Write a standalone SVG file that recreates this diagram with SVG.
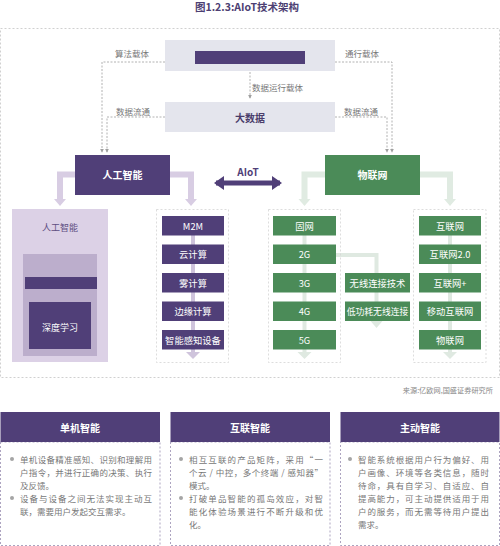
<svg xmlns="http://www.w3.org/2000/svg" width="500" height="546" viewBox="0 0 500 546">
<style>
text{font-family:"Noto Sans CJK SC","Noto Sans",sans-serif;dominant-baseline:central}
.c{text-anchor:middle}
.w{fill:#fff}
.b{font-weight:bold}
.lbl{font-size:8.5px;fill:#777}
.it{font-size:9.3px;fill:#fff;text-anchor:middle}
.pu{fill:#503f78}
.gr{fill:#4b8b58}
.col{fill:none;stroke:#d4d4d4;stroke-width:0.8;stroke-dasharray:2,2}
.dc{fill:none;stroke:#a0a0a0;stroke-width:0.8;stroke-dasharray:2,1.5}
.body{font-size:8.5px;fill:#777}
.panel{fill:#fff;stroke:#a49ab9;stroke-width:0.9;stroke-dasharray:2,2}
</style>
<defs>
<marker id="ah" viewBox="0 0 6 6" refX="5" refY="3" markerWidth="5" markerHeight="5" orient="auto">
<path d="M0,0 L6,3 L0,6 z" fill="#a0a0a0"/>
</marker>
</defs>

<text x="247" y="6" class="c b" style="font-size:10.5px;fill:#4d3f73">图1.2.3:AIoT技术架构</text>

<rect x="0.5" y="28.5" width="499" height="349" fill="none" stroke="#c4c4c4" stroke-width="0.8" stroke-dasharray="2,2"/>

<g id="connectors">
<path class="dc" d="M165,62 H102 V152" marker-end="url(#ah)"/>
<path class="dc" d="M335,62 H392 V152" marker-end="url(#ah)"/>
<path class="dc" d="M250,72 V98" marker-end="url(#ah)"/>
<path class="dc" d="M165,117 H107 V152" marker-end="url(#ah)"/>
<path class="dc" d="M335,117 H387 V152" marker-end="url(#ah)"/>
<path d="M75,174.5 H60 V200" fill="none" stroke="#d8cde3" stroke-width="6"/>
<polygon points="54,199 66,199 60,206" fill="#d8cde3"/>
<path d="M170,174.5 H191 V200" fill="none" stroke="#d8cde3" stroke-width="6"/>
<polygon points="185,199 197,199 191,206" fill="#d8cde3"/>
<path d="M325,174.5 H304.5 V200" fill="none" stroke="#e0ebe2" stroke-width="6"/>
<polygon points="298.5,199 310.5,199 304.5,206" fill="#e0ebe2"/>
<path d="M420,174.5 H450 V200" fill="none" stroke="#e0ebe2" stroke-width="6"/>
<polygon points="444,199 456,199 450,206" fill="#e0ebe2"/>
<path d="M216,183 H280" stroke="#503f78" stroke-width="5"/>
<polygon points="214,183 224,176 224,190" fill="#503f78"/>
<polygon points="282,183 272,176 272,190" fill="#503f78"/>
<path d="M193,230 V353" stroke="#cfc4dc" stroke-width="4"/>
<polygon points="186,352 200,352 193,359" fill="#cfc4dc"/>
<path d="M304.5,230 V353" stroke="#dfe9e1" stroke-width="4"/>
<polygon points="297.5,352 311.5,352 304.5,359" fill="#dfe9e1"/>
<path d="M450,230 V353" stroke="#dfe9e1" stroke-width="4"/>
<polygon points="443,352 457,352 450,359" fill="#dfe9e1"/>
<path d="M336,255 H376.5 V322" fill="none" stroke="#dfe9e1" stroke-width="4"/>
<polygon points="370.5,321 382.5,321 376.5,328" fill="#dfe9e1"/>
</g>

<text x="132" y="53" class="lbl c">算法载体</text>
<text x="362" y="53" class="lbl c">通行载体</text>
<text x="252" y="87" class="lbl">数据运行载体</text>
<text x="133" y="111" class="lbl c">数据流通</text>
<text x="361" y="111" class="lbl c">数据流通</text>
<text x="248" y="171" class="c b" style="font-size:10px;fill:#503f78">AIoT</text>

<g id="top">
<rect x="165" y="40" width="170" height="31" fill="#e4e5ed"/>
<rect x="195" y="51" width="110" height="13" class="pu"/>
</g>
<g id="bigdata">
<rect x="165" y="102" width="170" height="30" fill="#e4e5ed"/>
<text x="250" y="117" class="c b" style="font-size:10px;fill:#4a3d6b">大数据</text>
</g>
<g id="ai">
<rect x="75" y="155" width="95" height="40" class="pu"/>
<text x="122.5" y="174.5" class="c b w" style="font-size:10px">人工智能</text>
</g>
<g id="iot">
<rect x="325" y="155" width="95" height="40" class="gr"/>
<text x="372.5" y="174.5" class="c b w" style="font-size:10px">物联网</text>
</g>

<g id="ai-panel">
<rect x="12" y="209" width="96" height="153" fill="#dcd1e6"/>
<text x="60" y="227" class="c" style="font-size:9px;fill:#5e4e82">人工智能</text>
<rect x="23" y="254" width="74" height="102" fill="#bcaecc"/>
<rect x="25" y="277" width="72" height="12" class="pu"/>
<rect x="29" y="302" width="62" height="47" class="pu"/>
<text x="60" y="327" class="c w" style="font-size:9px">深度学习</text>
</g>

<g id="compute">
<rect x="156.5" y="209.5" width="72" height="153" class="col"/>
<rect x="162" y="216" width="62" height="19.5" class="pu"/><text x="193" y="225.7" class="it">M2M</text>
<rect x="162" y="244.5" width="62" height="19.5" class="pu"/><text x="193" y="254.2" class="it">云计算</text>
<rect x="162" y="273" width="62" height="19.5" class="pu"/><text x="193" y="282.7" class="it">雾计算</text>
<rect x="162" y="301.5" width="62" height="19.5" class="pu"/><text x="193" y="311.2" class="it">边缘计算</text>
<rect x="162" y="330" width="62" height="19.5" class="pu"/><text x="193" y="339.7" class="it">智能感知设备</text>
</g>

<g id="network">
<rect x="268.5" y="209.5" width="72" height="153" class="col"/>
<rect x="273" y="216" width="63" height="19.5" class="gr"/><text x="304.5" y="225.7" class="it">固网</text>
<rect x="273" y="244.5" width="63" height="19.5" class="gr"/><text x="304.5" y="254.2" class="it">2G</text>
<rect x="273" y="273" width="63" height="19.5" class="gr"/><text x="304.5" y="282.7" class="it">3G</text>
<rect x="273" y="301.5" width="63" height="19.5" class="gr"/><text x="304.5" y="311.2" class="it">4G</text>
<rect x="273" y="330" width="63" height="19.5" class="gr"/><text x="304.5" y="339.7" class="it">5G</text>
</g>

<g id="wireless">
<rect x="345" y="273" width="65" height="19.5" class="gr"/><text x="377.5" y="282.7" class="it">无线连接技术</text>
<rect x="345" y="301.5" width="65" height="19.5" class="gr"/><text x="377.5" y="311.2" class="it" style="font-size:8.8px">低功耗无线连接</text>
</g>

<g id="internet">
<rect x="413.5" y="209.5" width="72.5" height="153" class="col"/>
<rect x="419" y="216" width="62" height="19.5" class="gr"/><text x="450" y="225.7" class="it">互联网</text>
<rect x="419" y="244.5" width="62" height="19.5" class="gr"/><text x="450" y="254.2" class="it">互联网2.0</text>
<rect x="419" y="273" width="62" height="19.5" class="gr"/><text x="450" y="282.7" class="it">互联网+</text>
<rect x="419" y="301.5" width="62" height="19.5" class="gr"/><text x="450" y="311.2" class="it">移动互联网</text>
<rect x="419" y="330" width="62" height="19.5" class="gr"/><text x="450" y="339.7" class="it">物联网</text>
</g>

<text x="493" y="390" style="font-size:7.2px;fill:#888;text-anchor:end">来源:亿欧网,国盛证券研究所</text>

<g id="panel-1">
<rect x="0.5" y="442" width="159.5" height="103.5" class="panel"/>
<rect x="0.5" y="412" width="159.5" height="30" class="pu"/>
<text x="80" y="427" class="c b w" style="font-size:10px">单机智能</text>
<circle cx="12" cy="459" r="2" fill="#a5a5a5"/>
<circle cx="12" cy="498" r="2" fill="#a5a5a5"/>
<text x="20" y="459" class="body" textLength="132" lengthAdjust="spacing">单机设备精准感知、识别和理解用</text>
<text x="20" y="472" class="body" textLength="132" lengthAdjust="spacing">户指令，并进行正确的决策、执行</text>
<text x="20" y="485" class="body">及反馈。</text>
<text x="20" y="498" class="body" textLength="132" lengthAdjust="spacing">设备与设备之间无法实现主动互</text>
<text x="20" y="511" class="body">联，需要用户发起交互需求。</text>
</g>

<g id="panel-2">
<rect x="170.5" y="442" width="159.5" height="103.5" class="panel"/>
<rect x="170.5" y="412" width="159.5" height="30" class="pu"/>
<text x="250" y="427" class="c b w" style="font-size:10px">互联智能</text>
<circle cx="181" cy="459" r="2" fill="#a5a5a5"/>
<circle cx="181" cy="498" r="2" fill="#a5a5a5"/>
<text x="189" y="459" class="body" textLength="134" lengthAdjust="spacing">相互互联的产品矩阵，采用“一</text>
<text x="189" y="472" class="body" textLength="134" lengthAdjust="spacing">个云 / 中控，多个终端 / 感知器”</text>
<text x="189" y="485" class="body">模式。</text>
<text x="189" y="498" class="body" textLength="134" lengthAdjust="spacing">打破单品智能的孤岛效应，对智</text>
<text x="189" y="511" class="body" textLength="134" lengthAdjust="spacing">能化体验场景进行不断升级和优</text>
<text x="189" y="524" class="body">化。</text>
</g>

<g id="panel-3">
<rect x="340.5" y="442" width="159" height="103.5" class="panel"/>
<rect x="340.5" y="412" width="159" height="30" class="pu"/>
<text x="420" y="427" class="c b w" style="font-size:10px">主动智能</text>
<circle cx="350" cy="459" r="2" fill="#a5a5a5"/>
<text x="358" y="459" class="body" textLength="131" lengthAdjust="spacing">智能系统根据用户行为偏好、用</text>
<text x="358" y="472" class="body" textLength="131" lengthAdjust="spacing">户画像、环境等各类信息，随时</text>
<text x="358" y="485" class="body" textLength="131" lengthAdjust="spacing">待命，具有自学习、自适应、自</text>
<text x="358" y="498" class="body" textLength="131" lengthAdjust="spacing">提高能力，可主动提供适用于用</text>
<text x="358" y="511" class="body" textLength="131" lengthAdjust="spacing">户的服务，而无需等待用户提出</text>
<text x="358" y="524" class="body">需求。</text>
</g>
</svg>
